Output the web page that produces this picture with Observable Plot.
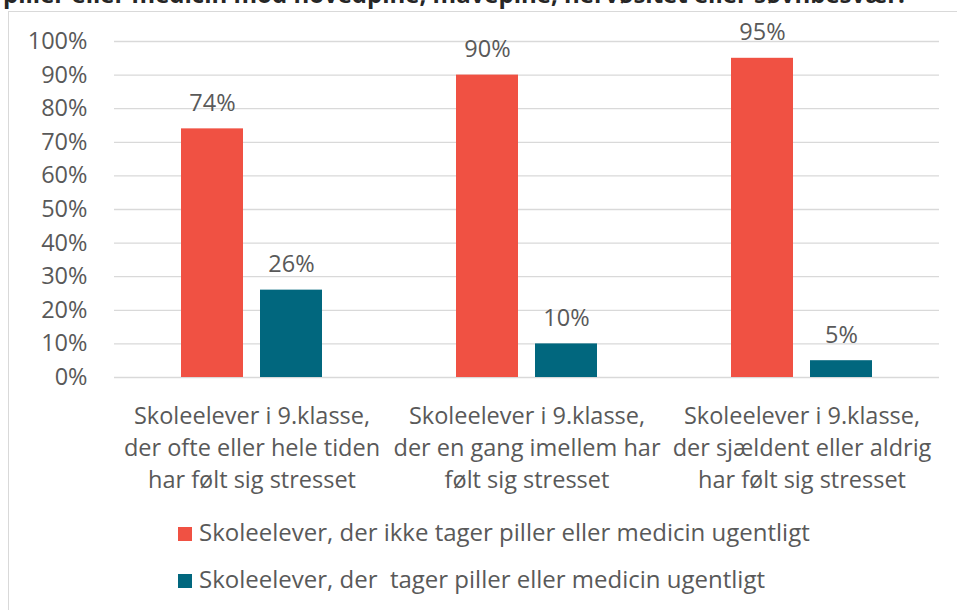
<!DOCTYPE html>
<html><head><meta charset="utf-8">
<script src="https://cdn.jsdelivr.net/npm/d3@7"></script>
<script src="https://cdn.jsdelivr.net/npm/@observablehq/plot@0.6"></script>
<style>
body{margin:0;background:#fff;font-family:"Open Sans",sans-serif;}
#wrap{position:relative;width:957px;height:610px;overflow:hidden;background:#fff}
#frame{position:absolute;left:8px;top:11px;width:1000px;height:700px;border:1.5px solid #d9d9d9;box-sizing:border-box}
#title{position:absolute;left:3px;top:-20px;font-weight:bold;font-size:24px;color:#262626;white-space:nowrap;line-height:28px}
#chart{position:absolute;left:0;top:0}
.leg{position:absolute;left:178px;font-size:24px;color:#595959;white-space:pre;line-height:30px}
.sw{display:inline-block;width:14px;height:14px;margin-right:7px}
</style></head>
<body>
<div id="wrap">
  <div id="frame"></div>
  <div id="title"></div>
  <div id="chart"></div>
  <div id="legend"></div>
</div>
<script>
const title = "piller eller medicin mod hovedpine, mavepine, nervøsitet eller søvnbesvær.";
const categories = [
  "Skoleelever i 9.klasse,\nder ofte eller hele tiden\nhar følt sig stresset",
  "Skoleelever i 9.klasse,\nder en gang imellem har\nfølt sig stresset",
  "Skoleelever i 9.klasse,\nder sjældent eller aldrig\nhar følt sig stresset"
];
const series = [
  "Skoleelever, der ikke tager piller eller medicin ugentligt",
  "Skoleelever, der  tager piller eller medicin ugentligt"
];
const noMedicin = [74, 90, 95];
const medicin = [26, 10, 5];
const yTicks = [0, 10, 20, 30, 40, 50, 60, 70, 80, 90, 100];
const colors = ["#f05143", "#01677e"];

document.getElementById("title").textContent = title;

const data = categories.flatMap((c, i) => [
  {cat: c, series: series[0], value: noMedicin[i]},
  {cat: c, series: series[1], value: medicin[i]}
]);

const FS = 23.5;
const chart = Plot.plot({
  width: 957, height: 500,
  marginLeft: 113, marginRight: 17, marginTop: 41, marginBottom: 123,
  style: {fontFamily: '"Open Sans", sans-serif', fontSize: FS + "px", color: "#595959", background: "transparent"},
  fx: {domain: categories, padding: 0, label: null},
  x: {domain: series, paddingInner: 0.215, paddingOuter: 0.848, axis: null},
  y: {domain: [0, 100], axis: null},
  color: {domain: series, range: colors},
  marks: [
    Plot.ruleY(yTicks, {stroke: "#d9d9d9", strokeWidth: 1.3}),
    Plot.barY(data, {fx: "cat", x: "series", y: "value", fill: "series"}),
    Plot.text(data, {fx: "cat", x: "series", y: "value", text: d => d.value + "%", dy: -18, lineAnchor: "bottom", fill: "#595959", fontSize: FS}),
    Plot.axisY(yTicks, {tickSize: 0, tickPadding: 27, tickFormat: d => d + "%", fontSize: FS, fill: "#595959", label: null}),
    Plot.axisFx({anchor: "bottom", tickSize: 0, tickPadding: 24, lineHeight: 1.36, fontSize: FS, fill: "#595959", label: null})
  ]
});
document.getElementById("chart").appendChild(chart);

const legend = document.getElementById("legend");
const tops = [516.5, 563.5];
series.forEach((s, i) => {
  const row = document.createElement("div");
  row.className = "leg";
  row.style.top = tops[i] + "px";
  const sw = document.createElement("span");
  sw.className = "sw";
  sw.style.background = colors[i];
  row.appendChild(sw);
  row.appendChild(document.createTextNode(s));
  legend.appendChild(row);
});
</script>
</body></html>
